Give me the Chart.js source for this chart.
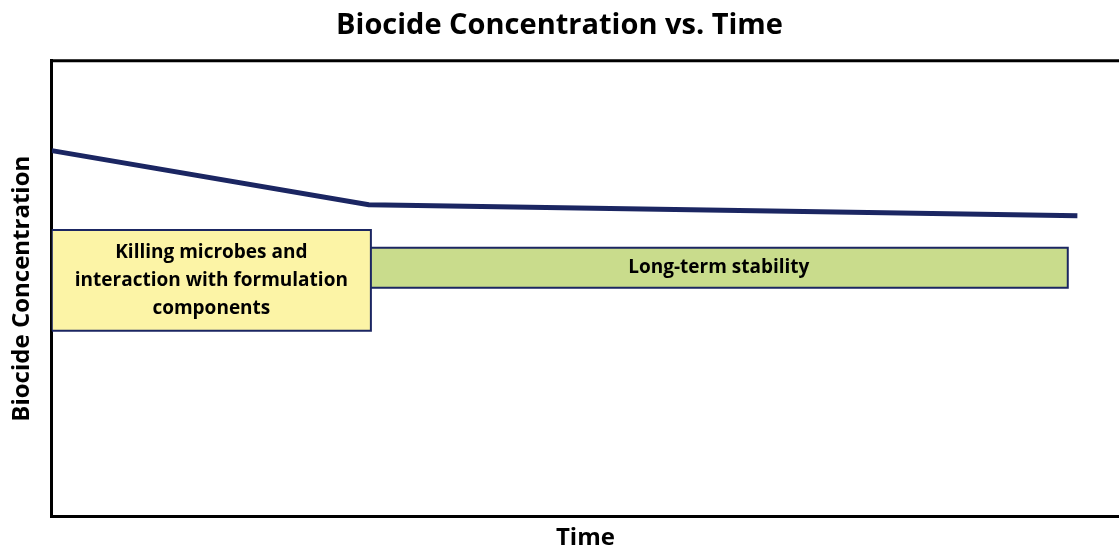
<!DOCTYPE html>
<html>
<head>
<meta charset="utf-8">
<script src="https://cdn.jsdelivr.net/npm/chart.js@4"></script>
<style>
  html, body { margin: 0; padding: 0; background: #fff; }
  #wrap { width: 1119px; height: 551px; }
</style>
</head>
<body>
<div id="wrap"><canvas id="chart"></canvas></div>
<script>
// concentration curve (time %, concentration %)
const curveTime = [0, 29.7, 96.1]
const curveConc = [80.3, 68.4, 66.0]

// phase boxes: [xStart, xEnd, yBottom, yTop]
const phaseNames = ["killing", "stability"]
const phaseX = [[0, 29.9], [29.8, 95.2]]
const phaseY = [[40.8, 62.9], [50.2, 59.0]]
const phaseLabels = [
  ["Killing microbes and", "interaction with formulation", "components"],
  ["Long-term stability"]
]
const phaseFill = ["#FCF4A6", "#C9DC8C"]

const navy = "#1B2662"
const font = "'Open Sans', 'DejaVu Sans', sans-serif"

function boxPoints(i) {
  const [x0, x1] = phaseX[i]
  const [y0, y1] = phaseY[i]
  return [
    { x: x0, y: y0 }, { x: x1, y: y0 }, { x: x1, y: y1 },
    { x: x0, y: y1 }, { x: x0, y: y0 }
  ]
}

const boxSets = phaseNames.map((name, i) => ({
  label: name,
  data: boxPoints(i),
  borderColor: navy,
  borderWidth: 2,
  backgroundColor: phaseFill[i],
  fill: "shape",
  pointRadius: 0,
  tension: 0
}))

// writes the phase labels in the middle of each box
const boxText = {
  id: "boxText",
  afterDatasetsDraw(chart) {
    const { ctx, scales } = chart
    ctx.save()
    ctx.fillStyle = "#000"
    ctx.font = "bold 19px " + font
    ctx.textAlign = "center"
    ctx.textBaseline = "middle"
    phaseLabels.forEach((lines, i) => {
      const cx = scales.x.getPixelForValue((phaseX[i][0] + phaseX[i][1]) / 2)
      const cy = scales.y.getPixelForValue((phaseY[i][0] + phaseY[i][1]) / 2)
      const lh = 28
      lines.forEach((t, j) => {
        ctx.fillText(t, cx, cy + (j - (lines.length - 1) / 2) * lh)
      })
    })
    ctx.restore()
  }
}

// top frame line of the plot
const topBorder = {
  id: "topBorder",
  afterDraw(chart) {
    const { ctx, chartArea } = chart
    ctx.save()
    ctx.strokeStyle = "#000"
    ctx.lineWidth = 3
    ctx.beginPath()
    ctx.moveTo(chartArea.left - 1.5, chartArea.top)
    ctx.lineTo(chartArea.right, chartArea.top)
    ctx.stroke()
    ctx.restore()
  }
}

const config = {
  type: "line",
  data: {
    datasets: [
      {
        label: "Biocide concentration",
        data: curveTime.map((t, i) => ({ x: t, y: curveConc[i] })),
        borderColor: navy,
        borderWidth: 5,
        pointRadius: 0,
        tension: 0,
        fill: false
      },
      ...boxSets
    ]
  },
  options: {
    responsive: true,
    maintainAspectRatio: false,
    animation: false,
    layout: { padding: { left: 0, right: 0, top: 0, bottom: 0 } },
    scales: {
      x: {
        type: "linear",
        min: 0,
        max: 100,
        grid: { display: false, drawTicks: false },
        border: { display: true, color: "#000", width: 3 },
        ticks: { display: false },
        title: {
          display: true,
          text: "Time",
          color: "#000",
          font: { family: font, size: 24, weight: "bold", lineHeight: 1.1 },
          padding: { top: 8, bottom: 0 }
        }
      },
      y: {
        min: 0,
        max: 100,
        grid: { display: false, drawTicks: false },
        border: { display: true, color: "#000", width: 3 },
        ticks: { display: false },
        title: {
          display: true,
          text: "Biocide Concentration",
          color: "#000",
          font: { family: font, size: 24, weight: "bold" },
          padding: { top: 8, bottom: 15 }
        }
      }
    },
    plugins: {
      legend: { display: false },
      tooltip: { enabled: false },
      title: {
        display: true,
        text: "Biocide Concentration vs. Time",
        color: "#000",
        font: { family: font, size: 29, weight: "bold" },
        padding: { top: 8, bottom: 18 }
      }
    }
  },
  plugins: [boxText, topBorder]
}

document.addEventListener("DOMContentLoaded", () => {
  new Chart(document.querySelector("#chart"), config)
})
</script>
</body>
</html>
